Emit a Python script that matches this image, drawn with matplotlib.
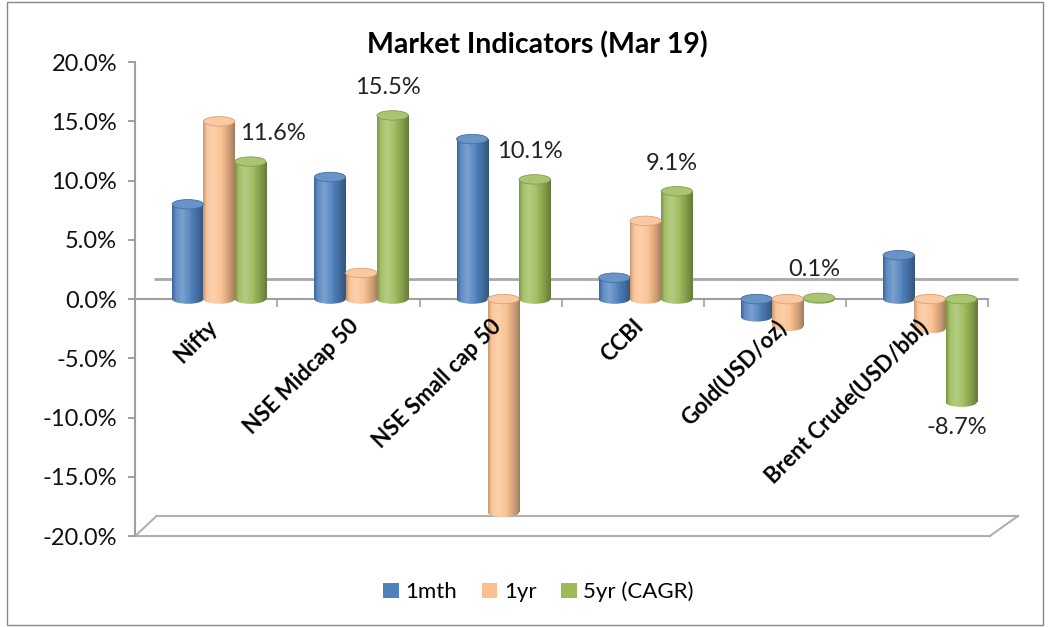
import matplotlib
matplotlib.use("Agg")
import matplotlib.pyplot as plt
import numpy as np
from matplotlib.ticker import FuncFormatter, FixedLocator
from matplotlib.patches import Rectangle, Ellipse
from matplotlib.colors import to_rgb

categories = ["Nifty", "NSE Midcap 50", "NSE Small cap 50", "CCBI",
              "Gold(USD/oz)", "Brent Crude(USD/bbl)"]
one_month = [8.0, 10.3, 13.5, 1.8, -1.5, 3.7]
one_year = [15.0, 2.2, -18.0, 6.6, -2.3, -2.5]
five_year = [11.6, 15.5, 10.1, 9.1, 0.1, -8.7]
series_names = ["1mth", "1yr", "5yr (CAGR)"]
colors = ["#4F81BD", "#FAC090", "#9BBB59"]

plt.rcParams['font.family'] = ['Lato', 'DejaVu Sans']

fig = plt.figure(figsize=(10.48, 6.27), dpi=100)
ax = fig.add_axes([0.129, 0.145, 0.814, 0.756])

x = np.arange(len(categories))
w = 0.22
shift = 0.09  # perspective offset of the bars
cap_h = 0.8   # height of the cylinder caps (in % units)


def mix(c, other, t):
    c = np.array(to_rgb(c)); o = np.array(to_rgb(other))
    return c * (1 - t) + o * t


def cylinder_image(color):
    s = np.linspace(0, 1, 80)
    # light at ~30%, darker to edges
    light = np.clip(1 - np.abs(s - 0.32) / 0.32, 0, 1) * 0.25
    dark = np.clip((s - 0.55) / 0.45, 0, 1) ** 1.3 * 0.35 + np.clip((0.12 - s) / 0.12, 0, 1) * 0.2
    rows = []
    for li, di in zip(light, dark):
        c = mix(color, 'white', li)
        c = c * (1 - di)
        rows.append(c)
    img = np.array(rows)[None, :, :]
    return img


series = [one_month, one_year, five_year]
for i, (vals, c, name) in enumerate(zip(series, colors, series_names)):
    bars = ax.bar(x + shift + (i - 1) * w, vals, width=w, color=c,
                  edgecolor='none', label=name, zorder=3)
    img = cylinder_image(c)
    for b in bars:
        x0, y0 = b.get_x(), b.get_y()
        bw, bh = b.get_width(), b.get_height()
        xc = x0 + bw / 2
        # rounded bottom/base cap
        ax.imshow(img, extent=[x0, x0 + bw, y0 - cap_h / 2, y0 + cap_h / 2],
                  aspect='auto', zorder=2.9,
                  clip_path=Ellipse((xc, y0), bw, cap_h, transform=ax.transData))
        im = ax.imshow(img, extent=[x0, x0 + bw, min(y0, y0 + bh), max(y0, y0 + bh)],
                       aspect='auto', zorder=3.1)
        im.set_clip_path(b)
        end = y0 + bh
        if bh < 0:
            ax.imshow(img, extent=[x0, x0 + bw, end - cap_h / 2, end + cap_h / 2],
                      aspect='auto', zorder=3.0,
                      clip_path=Ellipse((xc, end), bw, cap_h, transform=ax.transData))
            top = Ellipse((xc, y0), bw, cap_h, facecolor=mix(c, 'white', 0.15),
                          edgecolor=mix(c, 'black', 0.15), lw=0.6, zorder=3.3)
        else:
            top = Ellipse((xc, end), bw, cap_h, facecolor=mix(c, 'white', 0.15),
                          edgecolor=mix(c, 'black', 0.15), lw=0.6, zorder=3.3)
        ax.add_patch(top)

label_dx = [23, -5, -5, -5, -5, -4]  # pixel offsets of data labels
for xi, v, dx in zip(x, five_year, label_dx):
    bx = xi + shift + w
    if v >= 0:
        ax.annotate(f"{v:.1f}%", (bx, v), xytext=(dx * 0.72, 28 * 0.72),
                    textcoords='offset points', ha='center', va='center',
                    fontsize=17, color='#222222', zorder=5)
    else:
        ax.annotate(f"{v:.1f}%", (bx, v), xytext=(dx * 0.72, -25 * 0.72),
                    textcoords='offset points', ha='center', va='center',
                    fontsize=17, color='#222222', zorder=5)

ax.set_xlim(-0.5, len(categories) - 0.5)
ax.set_ylim(-20, 20)
ax.set_aspect('auto')
ax.yaxis.set_major_locator(FixedLocator(np.arange(-20, 20.1, 5)))
ax.yaxis.set_major_formatter(FuncFormatter(lambda v, p: f"{v:.1f}%"))
ax.tick_params(axis='y', labelsize=17, colors='#909090', labelcolor='#111111',
               length=5, width=1.2, pad=8)

for s in ['top', 'right']:
    ax.spines[s].set_visible(False)
ax.spines['left'].set_color('#A0A0A0')
ax.spines['left'].set_linewidth(1.5)
ax.spines['bottom'].set_position(('data', 0))
ax.spines['bottom'].set_color('#A0A0A0')
ax.spines['bottom'].set_linewidth(1.5)
ax.spines['bottom'].set_zorder(2.5)

ax.set_xticks(x)
ax.set_xticklabels(categories, rotation=45, ha='right', va='top',
                   rotation_mode='anchor', fontsize=16, fontweight='bold')
ax.tick_params(axis='x', length=0, pad=12)
ax.set_xticks(np.arange(-0.5, len(categories)), minor=True)
ax.tick_params(axis='x', which='minor', length=6, width=1.2, colors='#A0A0A0',
               direction='out')
ax.xaxis.set_zorder(4)

# back wall zero line and floor
ax.plot([-0.37, 5.71], [1.7, 1.7], color='#A8A8A8', lw=2.0,
        zorder=2, solid_capstyle='butt', clip_on=False)
ax.plot([-0.5, -0.35], [-20, -18.3], color='#B0B0B0', lw=1.5, zorder=1)
ax.plot([-0.35, 5.71], [-18.3, -18.3], color='#B0B0B0', lw=1.5, zorder=1, clip_on=False)
ax.plot([5.51, 5.71], [-20, -18.3], color='#B0B0B0', lw=1.5, zorder=1, clip_on=False)
ax.plot([-0.5, 5.51], [-20, -20], color='#B0B0B0', lw=1.5, zorder=1, clip_on=False)

fig.text(0.513, 0.928, "Market Indicators (Mar 19)", ha='center', va='center',
         fontsize=20.5, fontweight='bold')

handles, labels = ax.get_legend_handles_labels()
leg = fig.legend(handles, labels, loc='center', bbox_to_anchor=(0.514, 0.056),
                 ncol=3, frameon=False, fontsize=16, handlelength=0.7,
                 handleheight=0.7, columnspacing=1.1, handletextpad=0.3)

fig.patches.append(Rectangle((0.007, 0.003), 0.988, 0.994, transform=fig.transFigure,
                             fill=False, edgecolor='#888888', lw=1.0))

fig.savefig("out.png", dpi=100)
